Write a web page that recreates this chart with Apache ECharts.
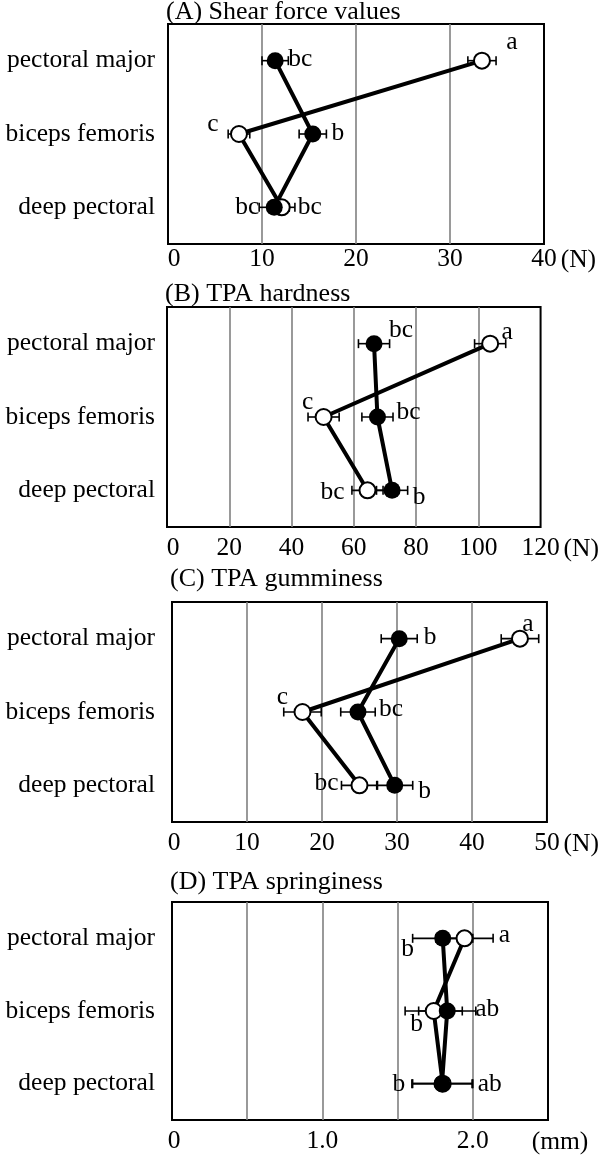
<!DOCTYPE html>
<html>
<head>
<meta charset="utf-8">
<script src="https://cdn.jsdelivr.net/npm/echarts@6/dist/echarts.min.js"></script>
<style>
html,body{margin:0;padding:0;background:#fff;}
#chart{width:600px;height:1156px;}
</style>
</head>
<body>
<div id="chart"></div>
<script>
// ---------- DATA ----------
const categories = ['pectoral major', 'biceps femoris', 'deep pectoral'];
const titles = ['(A) Shear force values', '(B) TPA hardness', '(C) TPA gumminess', '(D) TPA springiness'];
const units = ['(N)', '(N)', '(N)', '(mm)'];
const axisMax = [40, 120, 50, 2.5];
const axisStep = [10, 20, 10, 0.5];

// (A) Shear force
const shearBlack = [11.4, 15.4, 11.3];
const shearBlackSE = [1.4, 1.45, 1.6];
const shearWhite = [33.4, 7.55, 12.1];
const shearWhiteSE = [1.5, 1.15, 1.4];
const shearBlackLetters = ['bc', 'b', 'bc'];
const shearWhiteLetters = ['a', 'c', 'bc'];

// (B) TPA hardness
const hardBlack = [66.5, 67.6, 72.3];
const hardBlackSE = [5, 5, 5];
const hardWhite = [103.8, 50.3, 64.4];
const hardWhiteSE = [5, 5, 5];
const hardBlackLetters = ['bc', 'bc', 'b'];
const hardWhiteLetters = ['a', 'c', 'bc'];

// (C) TPA gumminess
const gumBlack = [30.3, 24.8, 29.7];
const gumBlackSE = [2.4, 2.3, 2.4];
const gumWhite = [46.4, 17.4, 25.0];
const gumWhiteSE = [2.5, 2.5, 2.4];
const gumBlackLetters = ['b', 'bc', 'b'];
const gumWhiteLetters = ['a', 'c', 'bc'];

// (D) TPA springiness
const springBlack = [1.80, 1.83, 1.795];
const springBlackSE = [0.2, 0.19, 0.2];
const springWhite = [1.945, 1.74, 1.80];
const springWhiteSE = [0.19, 0.19, 0.2];
const springBlackLetters = ['b', 'ab', 'b'];
const springWhiteLetters = ['a', 'b', 'ab'];

// ---------- STYLE / LAYOUT ----------
const FONT = '"Liberation Serif", "Times New Roman", serif';
const FS = 25.5;
const grids = [
  {left: 168, right: 56, top: 24, height: 220},
  {left: 167, right: 56, top: 307, height: 220},
  {left: 172, right: 52, top: 602, height: 220},
  {left: 172, right: 52, top: 902, height: 218}
];
const titleTops = [-2, 280, 565, 868];
const labelMargin = [2, 8, 8, 8];
const nameGap = [13, 16, 10, 12];
const catMargin = [13, 12, 17, 17];
// letter label offsets (px, relative to marker centre)
const blackOffsets = [
  [[25, -1], [25, -1], [-27, 0]],
  [[27, -13], [31, -5], [27, 7]],
  [[31, -1], [33, -3], [30, 6]],
  [[-35, 11], [40, -2], [-43, 1]]
];
const whiteOffsets = [
  [[30, -18], [-26, -10], [28, 0]],
  [[17, -11], [-16, -15], [-35, 2]],
  [[8, -14], [-20, -15], [-33, -2]],
  [[40, -3], [-17, 13], [47, 1]]
];

const panels = [
  {b: shearBlack, bse: shearBlackSE, w: shearWhite, wse: shearWhiteSE, bl: shearBlackLetters, wl: shearWhiteLetters},
  {b: hardBlack, bse: hardBlackSE, w: hardWhite, wse: hardWhiteSE, bl: hardBlackLetters, wl: hardWhiteLetters},
  {b: gumBlack, bse: gumBlackSE, w: gumWhite, wse: gumWhiteSE, bl: gumBlackLetters, wl: gumWhiteLetters},
  {b: springBlack, bse: springBlackSE, w: springWhite, wse: springWhiteSE, bl: springBlackLetters, wl: springWhiteLetters}
];

function errorBarRender(params, api) {
  const x = api.value(0), y = api.value(1), e = api.value(2);
  const p1 = api.coord([x - e, y]);
  const p2 = api.coord([x + e, y]);
  const h = 4.5;
  const st = {stroke: '#000', lineWidth: 1.6};
  return {
    type: 'group',
    children: [
      {type: 'line', shape: {x1: p1[0], y1: p1[1], x2: p2[0], y2: p2[1]}, style: st},
      {type: 'line', shape: {x1: p1[0], y1: p1[1] - h, x2: p1[0], y2: p1[1] + h}, style: st},
      {type: 'line', shape: {x1: p2[0], y1: p2[1] - h, x2: p2[0], y2: p2[1] + h}, style: st}
    ]
  };
}

const option = {
  animation: false,
  backgroundColor: '#fff',
  title: [], grid: [], xAxis: [], yAxis: [], series: []
};

panels.forEach((p, i) => {
  option.title.push({
    text: titles[i], left: grids[i].left - 2, top: titleTops[i], padding: 0,
    textStyle: {fontFamily: FONT, fontSize: 26, fontWeight: 'normal', color: '#000', lineHeight: 28}
  });
  option.grid.push(Object.assign({show: true, borderColor: '#000', borderWidth: 2, backgroundColor: '#fff'}, grids[i]));
  const zeroPad = grids[i].left < 170 ? 12 : 4;
  option.xAxis.push({
    type: 'value', gridIndex: i, min: 0, max: axisMax[i], interval: axisStep[i],
    name: units[i], nameLocation: 'end', nameGap: nameGap[i],
    nameTextStyle: {fontFamily: FONT, fontSize: FS, color: '#000', verticalAlign: 'top',
      align: i === 3 ? 'center' : 'left', padding: [labelMargin[i] + 1, 0, 0, 0]},
    axisLine: {show: false}, axisTick: {show: false},
    splitLine: {show: true, showMinLine: false, showMaxLine: false, lineStyle: {color: '#808080', width: 1.6}},
    axisLabel: {
      fontFamily: FONT, fontSize: FS, color: '#000', margin: labelMargin[i],
      showMaxLabel: i !== 3,
      formatter: function (v) {
        if (v === 0) return '{z|0}';
        if (i === 3) return (Math.abs(v % 1) < 1e-9 && v < 2.5) ? v.toFixed(1) : '';
        return String(v);
      },
      rich: {z: {fontFamily: FONT, fontSize: FS, color: '#000', padding: [0, 0, 0, zeroPad]}}
    }
  });
  option.yAxis.push({
    type: 'category', gridIndex: i, data: categories, inverse: true,
    axisLine: {show: false}, axisTick: {show: false}, splitLine: {show: false},
    axisLabel: {fontFamily: FONT, fontSize: FS, color: '#000', margin: catMargin[i]}
  });
  const mk = (vals) => vals.map((v, k) => [v, categories[k]]);
  const withSE = (vals, se) => vals.map((v, k) => [v, k, se[k]]);
  // connecting lines
  option.series.push({
    type: 'line', xAxisIndex: i, yAxisIndex: i, data: mk(p.w), symbol: 'none', z: 2,
    lineStyle: {color: '#000', width: 4}
  });
  option.series.push({
    type: 'line', xAxisIndex: i, yAxisIndex: i, data: mk(p.b), symbol: 'none', z: 2,
    lineStyle: {color: '#000', width: 4}
  });
  // error bars
  option.series.push({
    type: 'custom', xAxisIndex: i, yAxisIndex: i, renderItem: errorBarRender, z: 3,
    encode: {x: 0, y: 1}, data: withSE(p.w, p.wse)
  });
  option.series.push({
    type: 'custom', xAxisIndex: i, yAxisIndex: i, renderItem: errorBarRender, z: 3,
    encode: {x: 0, y: 1}, data: withSE(p.b, p.bse)
  });
  const lbl = (letters, offs) => (k) => ({
    show: true, position: 'inside', offset: offs[k], formatter: letters[k],
    fontFamily: FONT, fontSize: FS, color: '#000', align: 'center', verticalAlign: 'middle',
    textBorderWidth: 0
  });
  const wl = lbl(p.wl, whiteOffsets[i]);
  const bl = lbl(p.bl, blackOffsets[i]);
  option.series.push({
    type: 'scatter', xAxisIndex: i, yAxisIndex: i, z: 4, symbol: 'circle', symbolSize: 16,
    itemStyle: {color: '#fff', borderColor: '#000', borderWidth: 2, opacity: 1},
    data: p.w.map((v, k) => ({value: [v, categories[k]], label: wl(k)}))
  });
  option.series.push({
    type: 'scatter', xAxisIndex: i, yAxisIndex: i, z: 5, symbol: 'circle', symbolSize: 17,
    itemStyle: {color: '#000', borderColor: '#000', borderWidth: 0, opacity: 1},
    data: p.b.map((v, k) => ({value: [v, categories[k]], label: bl(k)}))
  });
});

const chart = echarts.init(document.getElementById('chart'), null, {renderer: 'canvas'});
chart.setOption(option);
</script>
</body>
</html>
